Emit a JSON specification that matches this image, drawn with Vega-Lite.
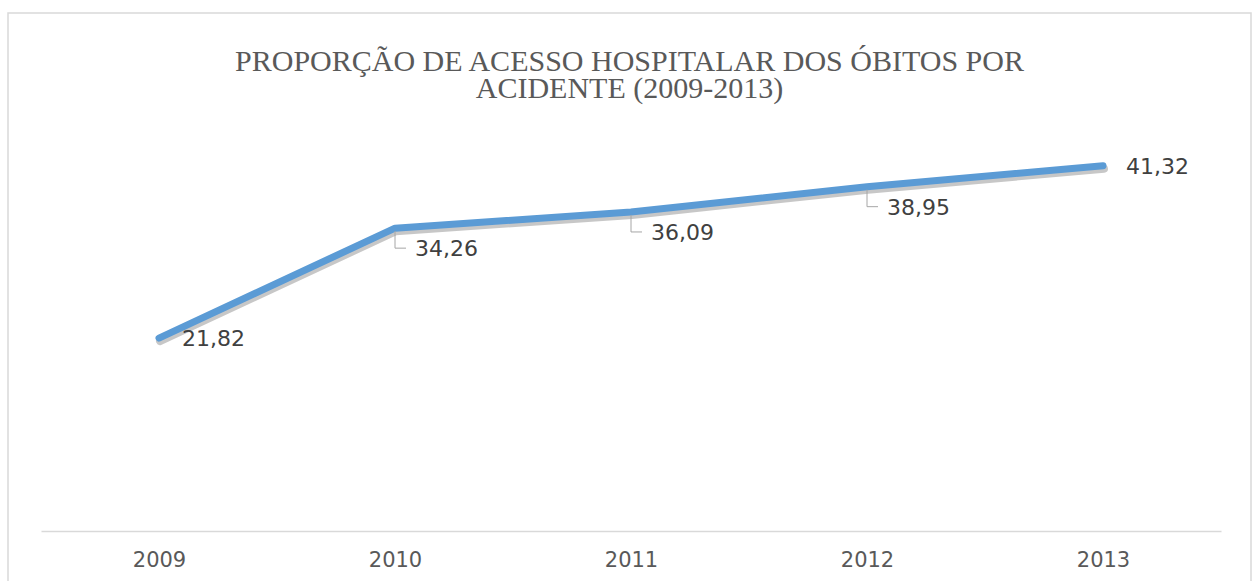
{
  "$schema": "https://vega.github.io/schema/vega-lite/v6.json",
  "width": 1243,
  "height": 575,
  "autosize": {"type": "none"},
  "padding": {"left": 8, "top": 13, "right": 8, "bottom": 0},
  "background": "white",
  "config": {"view": {"stroke": "#D9D9D9", "strokeWidth": 1.5}},
  "title": {
    "text": ["PROPORÇÃO DE  ACESSO HOSPITALAR DOS ÓBITOS POR", "ACIDENTE  (2009-2013)"],
    "orient": "top",
    "anchor": "middle",
    "frame": "group",
    "font": "Liberation Serif",
    "fontSize": 30,
    "fontWeight": "normal",
    "color": "#595959",
    "baseline": "alphabetic",
    "lineHeight": 27,
    "offset": -115
  },
  "data": {
    "values": [
      {"ano": "2009", "valor": 21.82, "rotulo": "21,82"},
      {"ano": "2010", "valor": 34.26, "rotulo": "34,26"},
      {"ano": "2011", "valor": 36.09, "rotulo": "36,09"},
      {"ano": "2012", "valor": 38.95, "rotulo": "38,95"},
      {"ano": "2013", "valor": 41.32, "rotulo": "41,32"}
    ]
  },
  "encoding": {
    "x": {
      "field": "ano",
      "type": "ordinal",
      "scale": {"type": "point", "padding": 0.5, "range": [33, 1213]},
      "axis": {
        "title": null,
        "orient": "bottom",
        "offset": -57,
        "domainColor": "#D9D9D9",
        "domainWidth": 1.5,
        "ticks": false,
        "tickSize": 0,
        "grid": false,
        "labelAngle": 0,
        "labelFont": "DejaVu Sans",
        "labelFontSize": 21,
        "labelColor": "#595959",
        "labelPadding": 18
      }
    },
    "y": {
      "field": "valor",
      "type": "quantitative",
      "scale": {"domain": [0, 50], "range": [518, 76], "nice": false, "zero": true},
      "axis": null
    }
  },
  "layer": [
    {
      "mark": {"type": "line", "color": "#000000", "opacity": 0.22, "strokeWidth": 8, "xOffset": 1, "yOffset": 3, "strokeCap": "round", "strokeJoin": "round"}
    },
    {
      "mark": {"type": "line", "color": "#5B9BD5", "strokeWidth": 7, "strokeCap": "round", "strokeJoin": "round"}
    },
    {
      "transform": [{"filter": "datum.ano == '2010' || datum.ano == '2011' || datum.ano == '2012'"}],
      "mark": {"type": "rule", "color": "#A6A6A6", "strokeWidth": 1, "yOffset": 3, "y2Offset": 20},
      "encoding": {"y2": {"field": "valor"}}
    },
    {
      "transform": [{"filter": "datum.ano == '2010' || datum.ano == '2011' || datum.ano == '2012'"}],
      "mark": {"type": "rule", "color": "#A6A6A6", "strokeWidth": 1, "yOffset": 20, "x2Offset": 11},
      "encoding": {"x2": {"field": "ano"}}
    },
    {
      "transform": [{"filter": "datum.ano == '2009' || datum.ano == '2013'"}],
      "mark": {"type": "text", "align": "left", "baseline": "middle", "dx": 23, "dy": 1, "font": "DejaVu Sans", "fontSize": 22, "color": "#404040"},
      "encoding": {"text": {"field": "rotulo"}}
    },
    {
      "transform": [{"filter": "datum.ano == '2010' || datum.ano == '2011' || datum.ano == '2012'"}],
      "mark": {"type": "text", "align": "left", "baseline": "middle", "dx": 20, "dy": 21, "font": "DejaVu Sans", "fontSize": 22, "color": "#404040"},
      "encoding": {"text": {"field": "rotulo"}}
    }
  ]
}
